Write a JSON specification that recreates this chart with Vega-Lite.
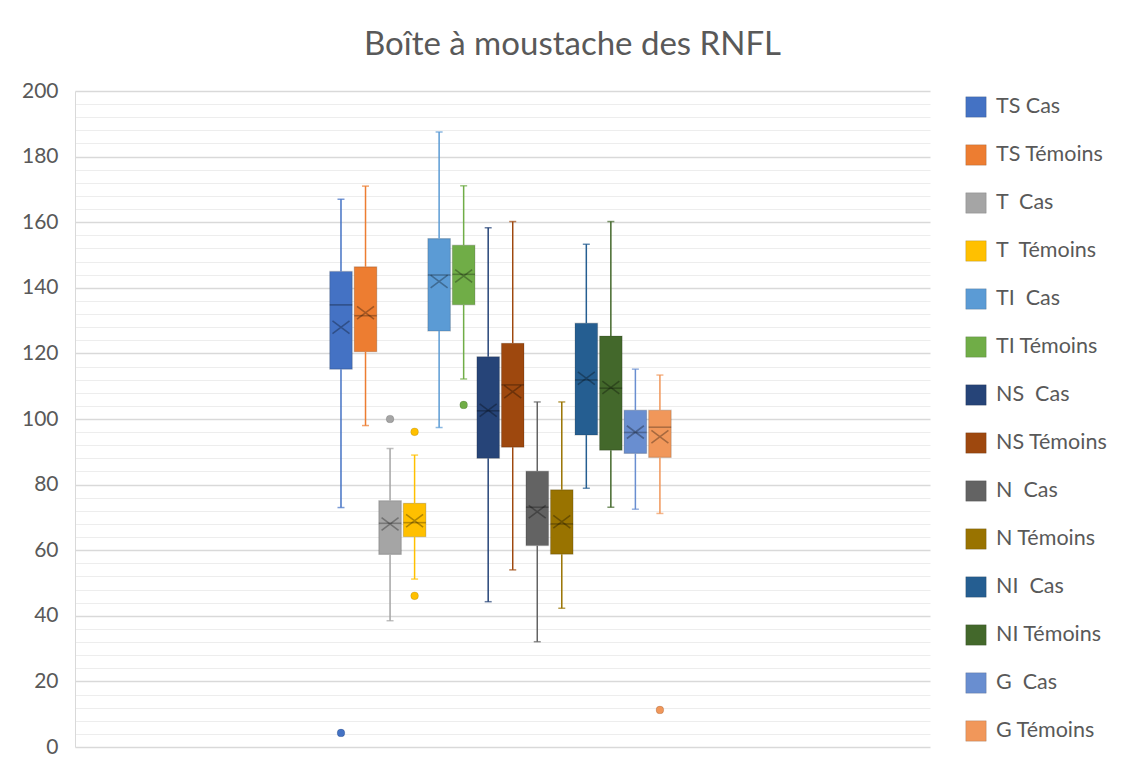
{
  "$schema": "https://vega.github.io/schema/vega-lite/v6.json",
  "width": 855,
  "height": 656,
  "autosize": {"type": "none"},
  "padding": {"left": 75, "top": 91, "right": 202, "bottom": 25},
  "background": "white",
  "config": {
    "view": {"stroke": null},
    "font": "Lato",
    "title": {"font": "Lato", "fontSize": 33, "fontWeight": "normal", "color": "#595959", "anchor": "middle", "dx": 70, "offset": 18},
    "legend": {"labelFont": "Lato", "labelFontSize": 21.5, "labelColor": "#595959"}
  },
  "title": "Boîte à moustache des RNFL",
  "datasets": {
    "boxes": [
      {"group": "RNFL", "series": "TS Cas", "lower": 73, "q1": 115.2, "median": 134.8, "mean": 128, "q3": 145, "upper": 167},
      {"group": "RNFL", "series": "TS Témoins", "lower": 98, "q1": 120.5, "median": 131.5, "mean": 132.4, "q3": 146.4, "upper": 171},
      {"group": "RNFL", "series": "T  Cas", "lower": 38.5, "q1": 58.7, "median": 68.2, "mean": 68, "q3": 75.1, "upper": 91},
      {"group": "RNFL", "series": "T  Témoins", "lower": 51.2, "q1": 64.1, "median": 68.4, "mean": 69, "q3": 74.3, "upper": 89},
      {"group": "RNFL", "series": "TI  Cas", "lower": 97.4, "q1": 126.8, "median": 143.9, "mean": 141.9, "q3": 155, "upper": 187.5},
      {"group": "RNFL", "series": "TI Témoins", "lower": 112.2, "q1": 134.8, "median": 144.1, "mean": 143.6, "q3": 153, "upper": 171.1},
      {"group": "RNFL", "series": "NS  Cas", "lower": 44.3, "q1": 88, "median": 102.5, "mean": 102.7, "q3": 119, "upper": 158.3},
      {"group": "RNFL", "series": "NS Témoins", "lower": 54, "q1": 91.4, "median": 110.4, "mean": 108.3, "q3": 123.1, "upper": 160.2},
      {"group": "RNFL", "series": "N  Cas", "lower": 32.1, "q1": 61.4, "median": 73.1, "mean": 71.7, "q3": 84.1, "upper": 105.2},
      {"group": "RNFL", "series": "N Témoins", "lower": 42.3, "q1": 58.8, "median": 68, "mean": 68.7, "q3": 78.4, "upper": 105.2},
      {"group": "RNFL", "series": "NI  Cas", "lower": 78.9, "q1": 95.1, "median": 111.9, "mean": 112.4, "q3": 129.2, "upper": 153.3},
      {"group": "RNFL", "series": "NI Témoins", "lower": 73.1, "q1": 90.5, "median": 109.4, "mean": 109.6, "q3": 125.3, "upper": 160.2},
      {"group": "RNFL", "series": "G  Cas", "lower": 72.5, "q1": 89.5, "median": 95.9, "mean": 96, "q3": 102.7, "upper": 115.2},
      {"group": "RNFL", "series": "G Témoins", "lower": 71.2, "q1": 88.3, "median": 97.5, "mean": 94.6, "q3": 102.7, "upper": 113.4}
    ],
    "outliers": [
      {"group": "RNFL", "series": "TS Cas", "value": 4.3},
      {"group": "RNFL", "series": "T  Cas", "value": 100},
      {"group": "RNFL", "series": "T  Témoins", "value": 96.1},
      {"group": "RNFL", "series": "T  Témoins", "value": 46.1},
      {"group": "RNFL", "series": "TI Témoins", "value": 104.3},
      {"group": "RNFL", "series": "G Témoins", "value": 11.3}
    ]
  },
  "data": {"name": "boxes"},
  "encoding": {
    "x": {
      "field": "group", "type": "nominal", "axis": null,
      "scale": {"paddingInner": 0.53, "paddingOuter": 0.35, "align": 0.496}
    },
    "xOffset": {
      "field": "series", "type": "nominal",
      "scale": {
        "domain": ["TS Cas", "TS Témoins", "T  Cas", "T  Témoins", "TI  Cas", "TI Témoins", "NS  Cas", "NS Témoins", "N  Cas", "N Témoins", "NI  Cas", "NI Témoins", "G  Cas", "G Témoins"],
        "paddingInner": 0.08, "paddingOuter": 0.04
      }
    }
  },
  "resolve": {"scale": {"color": "shared"}, "legend": {"color": "independent"}},
  "layer": [
    {
      "mark": {"type": "bar", "stroke": "#000000", "strokeOpacity": 0.15, "strokeWidth": 1.2, "opacity": 1},
      "encoding": {
        "y": {
          "field": "q1", "type": "quantitative",
          "scale": {"domain": [0, 200], "nice": false},
          "axis": {
            "title": null,
            "values": [0,4,8,12,16,20,24,28,32,36,40,44,48,52,56,60,64,68,72,76,80,84,88,92,96,100,104,108,112,116,120,124,128,132,136,140,144,148,152,156,160,164,168,172,176,180,184,188,192,196,200],
            "tickCount": 200,
            "labelOverlap": false,
            "labelExpr": "datum.value % 20 === 0 ? datum.label : ''",
            "grid": true,
            "gridColor": {"condition": {"test": "datum.value % 20 === 0", "value": "#d9d9d9"}, "value": "#ededed"},
            "gridWidth": {"condition": {"test": "datum.value % 20 === 0", "value": 1.5}, "value": 1},
            "ticks": false,
            "domain": true,
            "domainColor": "#d9d9d9",
            "labelFont": "Lato",
            "labelFontSize": 21,
            "labelColor": "#595959",
            "labelPadding": 17
          }
        },
        "y2": {"field": "q3"},
        "color": {
          "field": "series", "type": "nominal",
          "scale": {
            "domain": ["TS Cas", "TS Témoins", "T  Cas", "T  Témoins", "TI  Cas", "TI Témoins", "NS  Cas", "NS Témoins", "N  Cas", "N Témoins", "NI  Cas", "NI Témoins", "G  Cas", "G Témoins"],
            "range": ["#4472C4", "#ED7D31", "#A5A5A5", "#FFC000", "#5B9BD5", "#70AD47", "#264478", "#9E480E", "#636363", "#997300", "#255E91", "#43682B", "#698ED0", "#F1975A"]
          },
          "legend": {
            "title": null, "orient": "none", "legendX": 890, "legendY": 5,
            "symbolType": "square", "symbolSize": 420, "symbolStrokeWidth": 1,
            "symbolStrokeColor": "#00000022",
            "rowPadding": 22, "labelOffset": 9, "labelLimit": 200,
            "labelExpr": "replace(datum.label, '  ', '\u00a0\u00a0')"
          }
        }
      }
    },
    {
      "mark": {"type": "rule", "strokeWidth": 1.5},
      "encoding": {
        "y": {"field": "lower", "type": "quantitative"},
        "y2": {"field": "q1"},
        "color": {"field": "series", "type": "nominal", "legend": null}
      }
    },
    {
      "mark": {"type": "rule", "strokeWidth": 1.5},
      "encoding": {
        "y": {"field": "q3", "type": "quantitative"},
        "y2": {"field": "upper"},
        "color": {"field": "series", "type": "nominal", "legend": null}
      }
    },
    {
      "mark": {"type": "tick", "size": 7, "thickness": 1.5, "orient": "horizontal"},
      "encoding": {
        "y": {"field": "lower", "type": "quantitative"},
        "color": {"field": "series", "type": "nominal", "legend": null}
      }
    },
    {
      "mark": {"type": "tick", "size": 7, "thickness": 1.5, "orient": "horizontal"},
      "encoding": {
        "y": {"field": "upper", "type": "quantitative"},
        "color": {"field": "series", "type": "nominal", "legend": null}
      }
    },
    {
      "mark": {"type": "tick", "orient": "horizontal", "size": 22.6, "thickness": 1.6, "color": "#000000", "opacity": 0.28},
      "encoding": {
        "y": {"field": "median", "type": "quantitative"}
      }
    },
    {
      "mark": {"type": "point", "shape": "M-1,-0.75L1,0.75M-1,0.75L1,-0.75", "filled": false, "size": 289, "strokeWidth": 1.6, "color": "#000000", "opacity": 0.3},
      "encoding": {
        "y": {"field": "mean", "type": "quantitative"}
      }
    },
    {
      "data": {"name": "outliers"},
      "mark": {"type": "circle", "size": 60, "opacity": 1, "stroke": "#000000", "strokeOpacity": 0.12, "strokeWidth": 1},
      "encoding": {
        "y": {"field": "value", "type": "quantitative"},
        "color": {"field": "series", "type": "nominal", "legend": null}
      }
    }
  ]
}
